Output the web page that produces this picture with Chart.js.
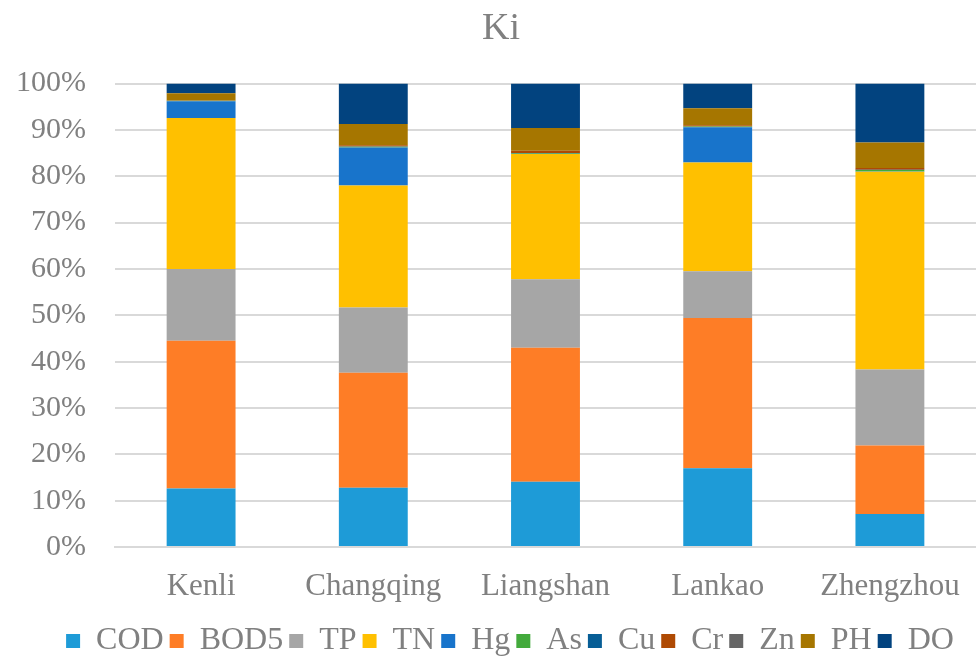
<!DOCTYPE html>
<html>
<head>
<meta charset="utf-8">
<script src="https://cdn.jsdelivr.net/npm/chart.js@4"></script>
<style>
  html, body { margin: 0; padding: 0; background: #fff; }
  #wrap { width: 976px; height: 659px; }
</style>
</head>
<body>
<div id="wrap"><canvas id="kiChart" width="976" height="659"></canvas></div>
<script>
// sites on the x axis
var sites = ['Kenli', 'Changqing', 'Liangshan', 'Lankao', 'Zhengzhou'];

// share of each indicator per site, in percent
var cod  = [12.6, 12.8, 14.1, 17.0, 7.1];
var bod5 = [31.9, 24.8, 28.9, 32.4, 14.8];
var tp   = [15.5, 14.1, 14.8, 10.1, 16.4];
var tn   = [32.6, 26.3, 27.0, 23.5, 42.7];
var hg   = [3.6, 8.2, 0.05, 7.6, 0.05];
var as   = [0.1, 0.15, 0.15, 0.15, 0.3];
var cu   = [0.0, 0.05, 0.0, 0.0, 0.05];
var cr   = [0.1, 0.3, 0.5, 0.25, 0.4];
var zn   = [0.0, 0.0, 0.0, 0.0, 0.0];
var ph   = [1.5, 4.6, 4.9, 3.7, 5.5];
var dO   = [2.1, 8.7, 9.6, 5.3, 12.7];

var yTicks = [0, 10, 20, 30, 40, 50, 60, 70, 80, 90, 100];

var seriesNames = ['COD', 'BOD5', 'TP', 'TN', 'Hg', 'As', 'Cu', 'Cr', 'Zn', 'PH', 'DO'];
var seriesData = [cod, bod5, tp, tn, hg, as, cu, cr, zn, ph, dO];
var seriesColors = ['#1E9BD7', '#FE7D26', '#A6A6A6', '#FFC000', '#1874CB', '#43AA3C',
                    '#075E96', '#AF4A03', '#666666', '#A67600', '#02437F'];

var textGray = '#808080';
var serif = '"Liberation Serif", "Times New Roman", serif';

// the original centres title and legend a little right of the canvas middle
var nudgeBoxes = {
    id: 'nudgeBoxes',
    afterLayout: function (chart) {
        chart.legend.left += 19;
        chart.legend.right += 19;
        chart.legend.top += 8;
        chart.legend.bottom += 8;
        chart.titleBlock.left += 10;
        chart.titleBlock.right += 10;
    }
};

function DrawChart() {
    var ctx = document.getElementById('kiChart').getContext('2d');
    var datasets = [];
    for (var i = 0; i < seriesNames.length; i++) {
        datasets.push({
            label: seriesNames[i],
            data: seriesData[i],
            backgroundColor: seriesColors[i],
            borderWidth: 0,
            barPercentage: 0.4,
            categoryPercentage: 1.0
        });
    }

    var kiChart = new Chart(ctx, {
        type: 'bar',
        data: {
            labels: sites,
            datasets: datasets
        },
        plugins: [nudgeBoxes],
        options: {
            responsive: false,
            animation: false,
            layout: {
                padding: { left: 0, right: -6, top: 0, bottom: 0 }
            },
            scales: {
                x: {
                    stacked: true,
                    afterFit: function (scale) {
                        scale.height = 64;
                        scale.paddingRight = -6;
                    },
                    grid: { display: false, drawTicks: false },
                    border: { display: true, color: '#D9D9D9', width: 2 },
                    ticks: {
                        color: textGray,
                        padding: 21,
                        font: { family: serif, size: 31 }
                    }
                },
                y: {
                    stacked: true,
                    min: 0,
                    max: 100,
                    afterBuildTicks: function (scale) {
                        scale.ticks = yTicks.map(function (v) { return { value: v }; });
                    },
                    afterFit: function (scale) {
                        scale.width = 115;
                        scale.paddingRight = -6;
                    },
                    grid: { color: '#D9D9D9', lineWidth: 2, drawTicks: false },
                    border: { display: false },
                    ticks: {
                        color: textGray,
                        padding: 29,
                        font: { family: serif, size: 30 },
                        callback: function (v) { return v + '%'; }
                    }
                }
            },
            plugins: {
                title: {
                    display: true,
                    text: 'Ki',
                    color: textGray,
                    font: { family: serif, size: 38, weight: 'normal' },
                    padding: { top: 6, bottom: 32 }
                },
                legend: {
                    display: true,
                    position: 'bottom',
                    labels: {
                        color: textGray,
                        boxWidth: 14,
                        boxHeight: 14,
                        padding: 6,
                        font: { family: serif, size: 32, lineHeight: 1.0 }
                    }
                },
                tooltip: { enabled: false }
            }
        }
    });
}

DrawChart();
</script>
</body>
</html>
